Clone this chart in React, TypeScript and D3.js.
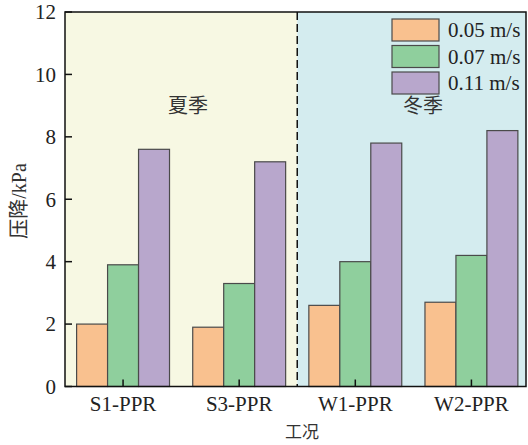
import React from "react";
import * as d3 from "d3";

const categories = ["S1-PPR", "S3-PPR", "W1-PPR", "W2-PPR"];
const seriesNames = ["0.05 m/s", "0.07 m/s", "0.11 m/s"];
const v005 = [2.0, 1.9, 2.6, 2.7];
const v007 = [3.9, 3.3, 4.0, 4.2];
const v011 = [7.6, 7.2, 7.8, 8.2];
const yTicks = [0, 2, 4, 6, 8, 10, 12];
const seasonLabels = ["夏季", "冬季"];

const series = [v005, v007, v011];
const colors = ["#f9c18f", "#8fcf9d", "#b8a7cc"];

const W = 528;
const H = 445;
const left = 65;
const right = 526;
const top = 12;
const bottom = 386.5;

const latin = "Liberation Serif, DejaVu Serif, serif";
const cjk = "Noto Sans CJK SC, sans-serif";

export default function App() {
  const x = d3.scaleLinear().domain([0.5, 4.47]).range([left, right]);
  const y = d3.scaleLinear().domain([0, 12]).range([bottom, top]);
  const barW = x(1.2667) - x(1);
  const divider = x(2.5);

  return (
    <svg width={W} height={H} style={{ position: "absolute", left: 0, top: 0 }}>
      <rect x={left} y={top} width={divider - left} height={bottom - top} fill="#f7f8e3" />
      <rect x={divider} y={top} width={right - divider} height={bottom - top} fill="#d4ecef" />

      {categories.map((c, i) =>
        series.map((s, k) => {
          const cx = x(i + 1) + (k - 1.5) * barW;
          return (
            <rect
              key={c + k}
              x={cx}
              y={y(s[i])}
              width={barW}
              height={y(0) - y(s[i])}
              fill={colors[k]}
              stroke="#4a4a4a"
              strokeWidth={1.2}
            />
          );
        })
      )}

      <line x1={divider} x2={divider} y1={top} y2={bottom} stroke="#111" strokeWidth={1.5} strokeDasharray="8,4" />

      <rect x={left} y={top} width={right - left} height={bottom - top} fill="none" stroke="#111" strokeWidth={1.5} />

      {yTicks.map((t) => (
        <g key={t}>
          <line x1={left} x2={left + 7} y1={y(t)} y2={y(t)} stroke="#111" strokeWidth={1.5} />
          <text x={left - 9} y={y(t)} dy="0.35em" textAnchor="end" style={{ fontFamily: latin }} fontSize={21} fill="#222">
            {t}
          </text>
        </g>
      ))}

      {categories.map((c, i) => (
        <g key={c}>
          <line x1={x(i + 1)} x2={x(i + 1)} y1={bottom} y2={bottom - 7} stroke="#111" strokeWidth={1.5} />
          <text x={x(i + 1)} y={411} textAnchor="middle" style={{ fontFamily: latin }} fontSize={21} fill="#222">
            {c}
          </text>
        </g>
      ))}

      <text x={188} y={113} textAnchor="middle" style={{ fontFamily: cjk }} fontSize={20} fill="#333">
        {seasonLabels[0]}
      </text>
      <text x={423} y={113} textAnchor="middle" style={{ fontFamily: cjk }} fontSize={20} fill="#333">
        {seasonLabels[1]}
      </text>

      {seriesNames.map((n, k) => (
        <g key={n}>
          <rect x={392} y={19 + k * 26.5} width={47} height={22} fill={colors[k]} stroke="#4a4a4a" strokeWidth={1.2} />
          <text x={448} y={37 + k * 26.5} style={{ fontFamily: latin }} fontSize={21} fill="#222">
            {n}
          </text>
        </g>
      ))}

      <text x={302} y={438} textAnchor="middle" style={{ fontFamily: cjk }} fontSize={17} fill="#333">
        工况
      </text>

      <text transform={`translate(19, 201) rotate(-90)`} dy="0.35em" textAnchor="middle" fontSize={20} fill="#333">
        <tspan style={{ fontFamily: cjk }}>压降</tspan>
        <tspan style={{ fontFamily: latin }}>/kPa</tspan>
      </text>
    </svg>
  );
}
